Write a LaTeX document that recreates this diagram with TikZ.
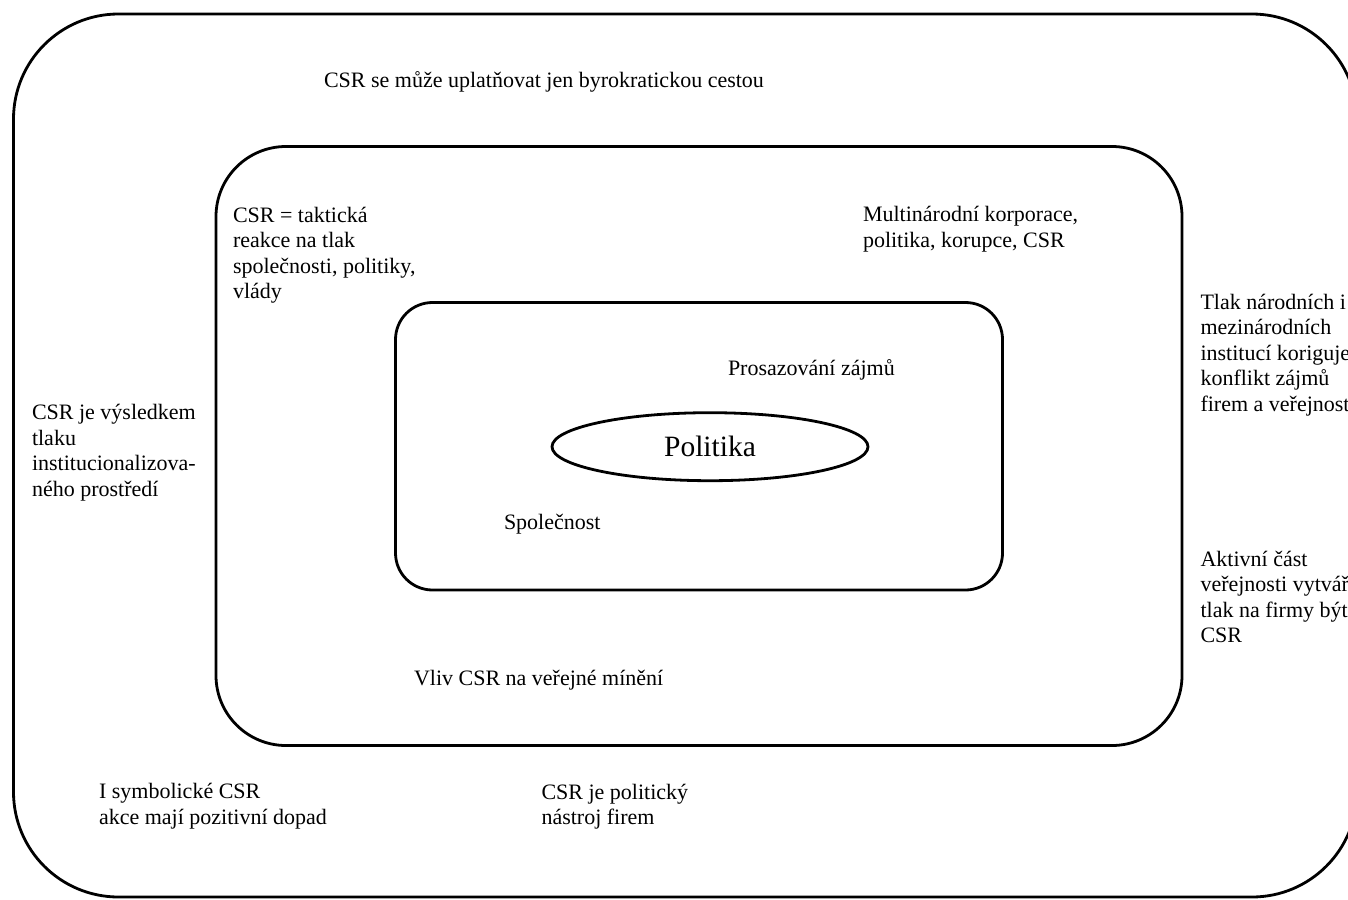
\documentclass[tikz,border=0pt]{standalone}
\usepackage{fontspec}
\setmainfont{Liberation Serif}
\usetikzlibrary{shapes.geometric}
\begin{document}
\begin{tikzpicture}[x=1pt,y=-1pt,
  frame/.style={draw=black, line width=2.8pt, rounded corners=#1, inner sep=0pt, outer sep=0pt},
  note/.style={anchor=north west, inner sep=0pt, outer sep=0pt, align=left,
    yshift=17.85pt, font=\fontsize{22}{25.5}\selectfont}
]
\clip (0,0) rectangle (1348,899);
\fill[white] (0,0) rectangle (1348,899);

% nested frames
\node[frame=105pt, minimum width=1343.5pt, minimum height=883pt] (outer) at (685.25,455.5) {};
\node[frame=70pt, minimum width=966pt, minimum height=599pt] (middle) at (699,446) {};
\node[frame=37pt, minimum width=607pt, minimum height=287.5pt] (inner) at (699,446.25) {};
\node[draw=black, line width=2.8pt, ellipse, inner sep=0pt, minimum width=316pt, minimum height=68pt,
  font=\fontsize{29.5}{34}\selectfont] (core) at (710,446.7) {Politika};

% texts in the outer ring
\node[note] (t1) at (324,87.7) {\strut CSR se může uplatňovat jen byrokratickou cestou};
\node[note] (t2) at (32,419.5) {\strut CSR je výsledkem\\tlaku\\institucionalizova-\\ného prostředí};
\node[note] (t3) at (1200.5,309.3) {\strut Tlak národních i\\mezinárodních\\institucí koriguje\\konflikt zájmů\\firem a veřejnosti};
\node[note] (t4) at (1200.5,566) {\strut Aktivní část\\veřejnosti vytváří\\tlak na firmy být\\CSR};
\node[note] (t5) at (99,798.5) {\strut I symbolické CSR\\akce mají pozitivní dopad};
\node[note] (t6) at (541.5,799) {\strut CSR je politický\\nástroj firem};

% texts in the middle ring
\node[note] (t7) at (233,222) {\strut CSR = taktická\\reakce na tlak\\společnosti, politiky,\\vlády};
\node[note] (t8) at (863,221.7) {\strut Multinárodní korporace,\\politika, korupce, CSR};
\node[note] (t9) at (414,685) {\strut Vliv CSR na veřejné mínění};

% texts in the inner frame
\node[note] (t10) at (728,375.5) {\strut Prosazování zájmů};
\node[note] (t11) at (504,529.5) {\strut Společnost};
\end{tikzpicture}
\end{document}
